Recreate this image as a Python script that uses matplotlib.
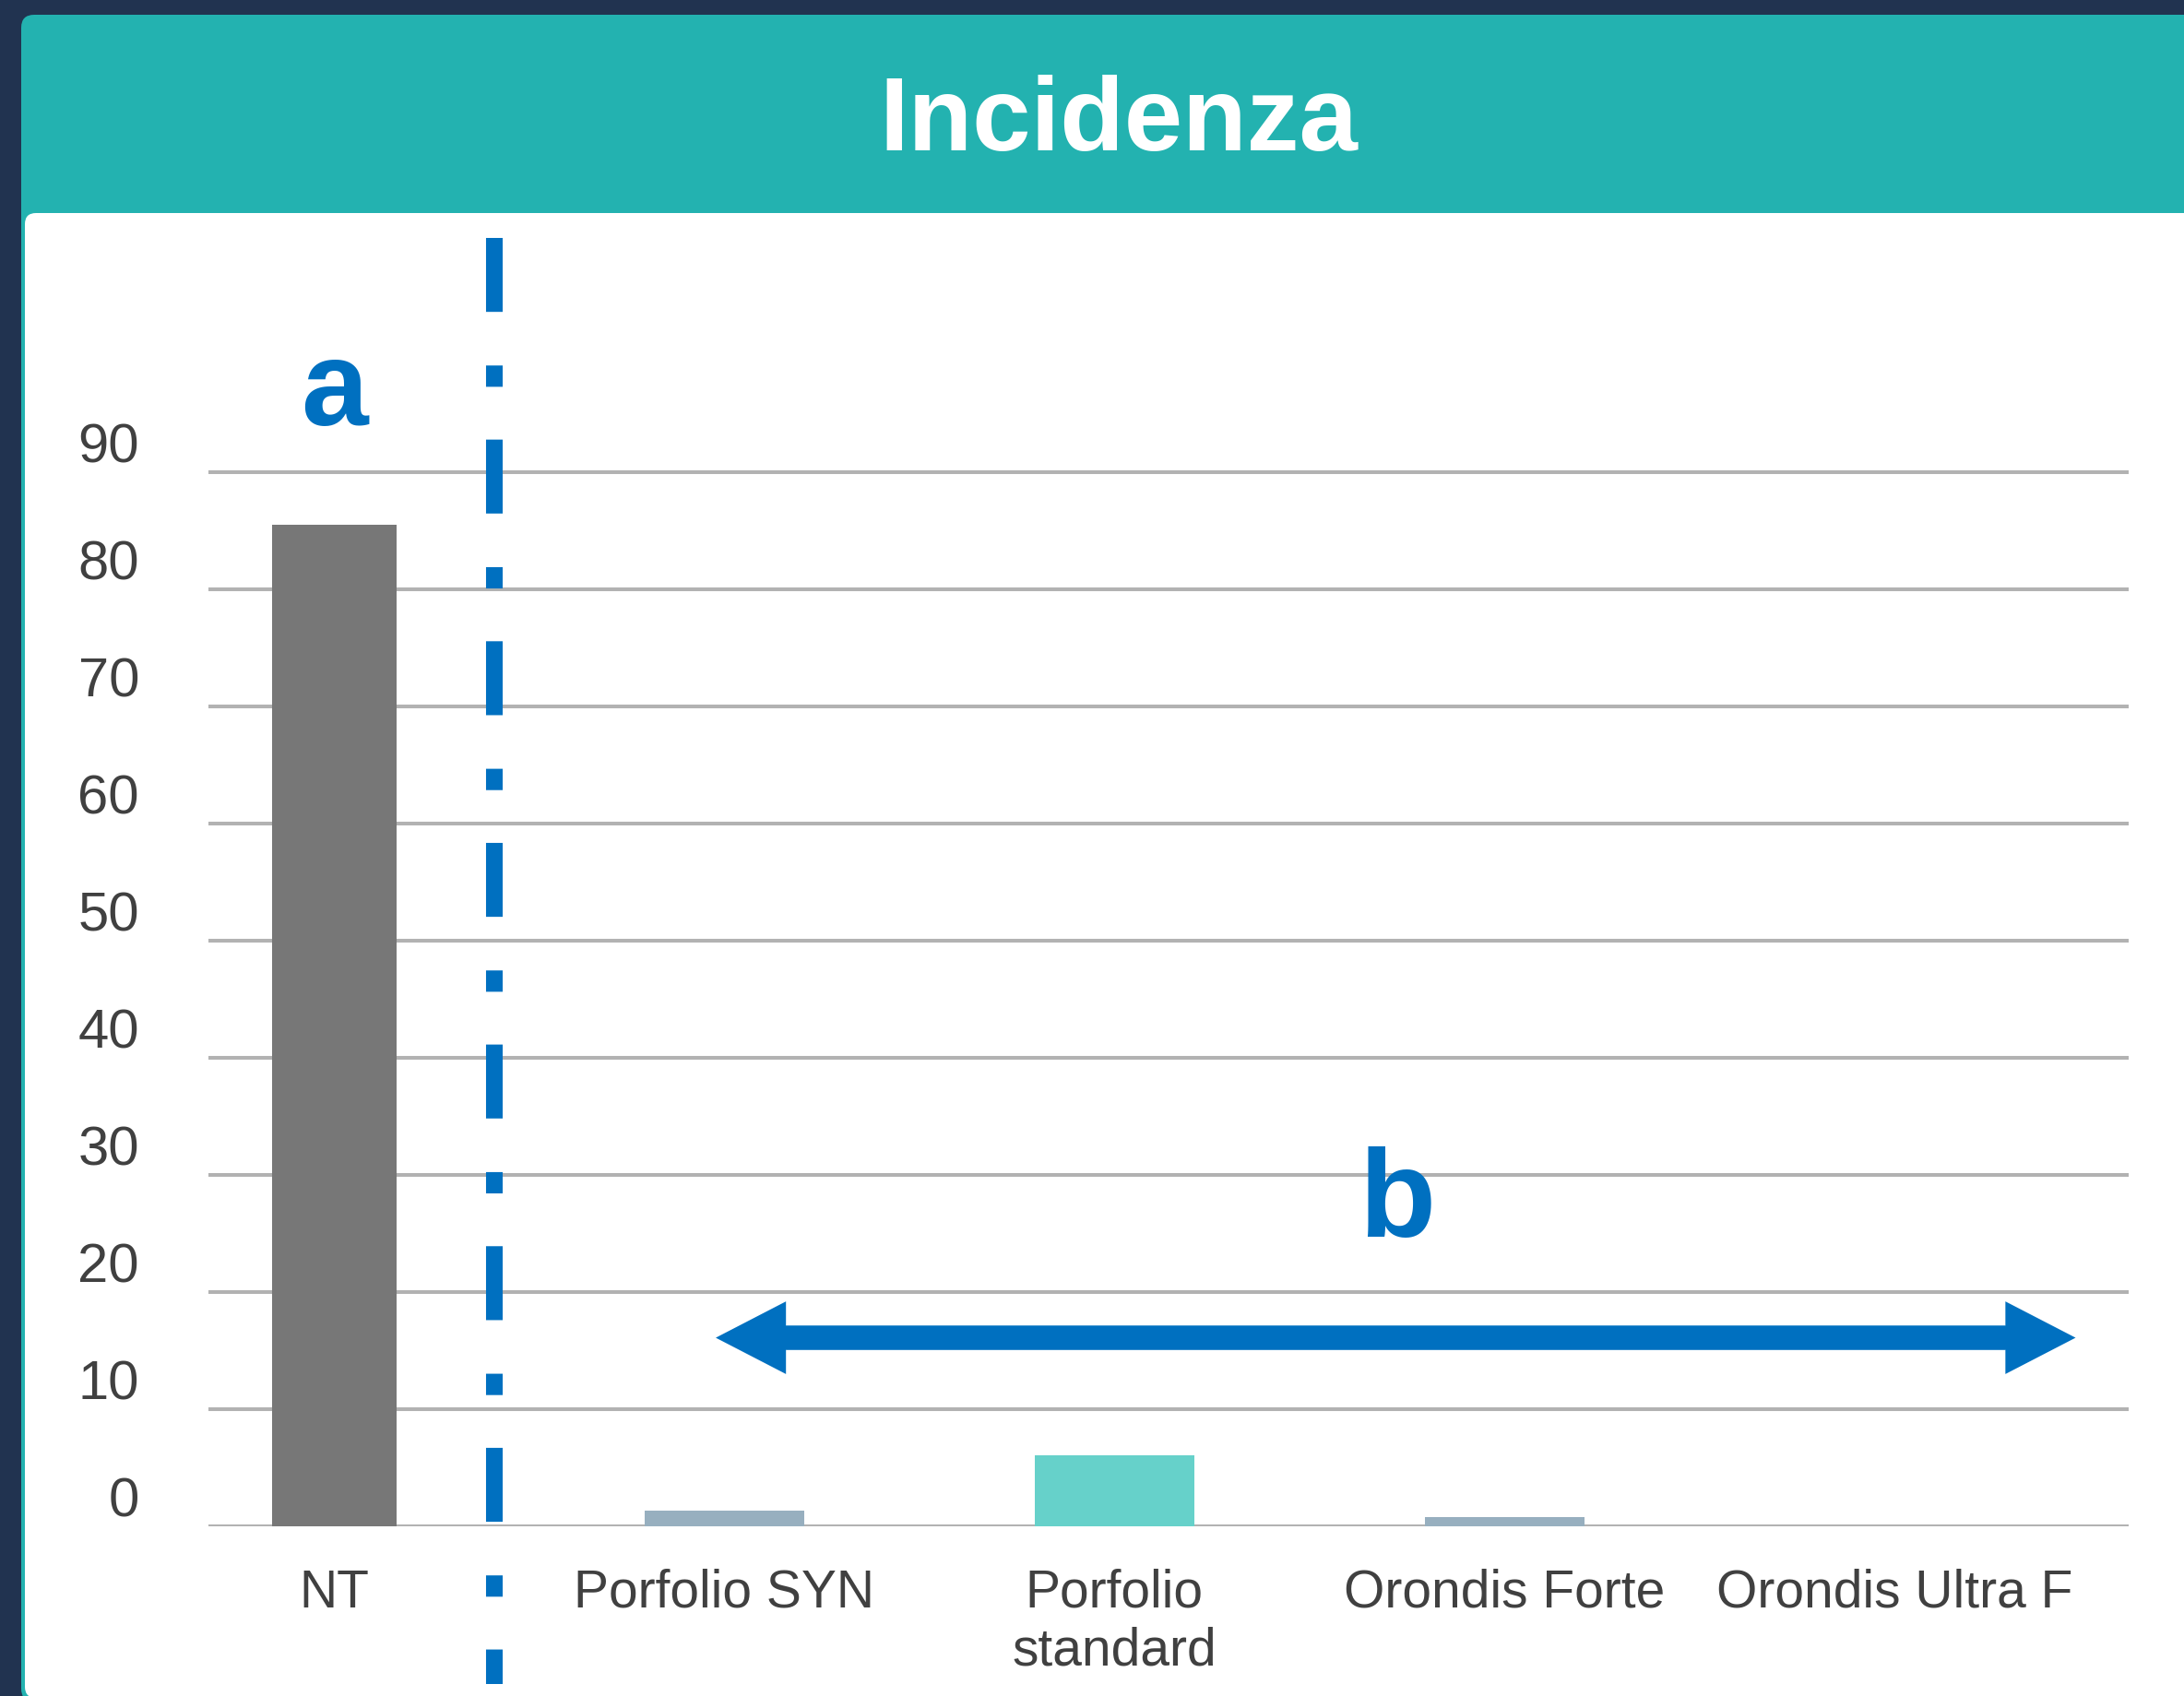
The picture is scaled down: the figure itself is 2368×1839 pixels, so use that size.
import matplotlib
matplotlib.use("Agg")
import matplotlib.pyplot as plt
from matplotlib.patches import FancyBboxPatch
from matplotlib.transforms import IdentityTransform, ScaledTranslation

# dati
categorie = ["NT", "Porfolio SYN", "Porfolio\nstandard", "Orondis Forte", "Orondis Ultra F"]
incidenza = [85.5, 1.3, 6.1, 0.8, 0.0]
y_ticks = [0, 10, 20, 30, 40, 50, 60, 70, 80, 90]
gruppo_nt = "a"
gruppo_trattati = "b"

# stile
W, H, DPI = 2368, 1839, 100
SFONDO = "#213350"
TEAL = "#23B2B0"
BLU = "#0070C0"
GRIGIO_TESTO = "#404040"
colori = ["#777777", "#97AFBF", "#66D1CA", "#97AFBF", "#97AFBF"]
larghezze = [0.32, 0.41, 0.41, 0.41, 0.41]

plt.rcParams["font.family"] = ["Liberation Sans", "DejaVu Sans"]

fig = plt.figure(figsize=(W / DPI, H / DPI), dpi=DPI, facecolor=SFONDO)

# scheda con intestazione (coordinate in pixel)
px = IdentityTransform()
scheda = FancyBboxPatch((23, -6), 2400, 1829, boxstyle="round,pad=0,rounding_size=14",
                        fc=TEAL, ec="none", transform=px, zorder=-3)
corpo = FancyBboxPatch((27, -2), 2400, 1610, boxstyle="round,pad=0,rounding_size=12",
                       fc="white", ec="none", transform=px, zorder=-2)
fig.add_artist(scheda)
fig.add_artist(corpo)

fig.text(1213 / W, 1 - 163 / H, "Incidenza", ha="center", va="baseline",
         fontsize=82, fontweight="bold", color="white")

ax = fig.add_axes([226 / W, 184 / H, (2308 - 226) / W, (1655 - 258) / H])
ax.patch.set_alpha(0)
for s in ax.spines.values():
    s.set_visible(False)

x = list(range(len(categorie)))
ax.bar(x, incidenza, width=larghezze, color=colori, zorder=2)

ax.set_xlim(-0.3225, 4.60)
ax.set_ylim(0, 110)
ax.set_yticks(y_ticks)
ax.set_xticks(x, categorie)
ax.yaxis.grid(True, color="#B2B2B2", linewidth=2.9)
ax.set_axisbelow(True)
ax.tick_params(axis="y", length=0, pad=54, labelsize=43, labelcolor=GRIGIO_TESTO)
ax.tick_params(axis="x", length=0, pad=33, labelsize=41, labelcolor=GRIGIO_TESTO)

# le etichette dell'asse y stanno un po' sopra le linee
shift = ScaledTranslation(0, 0.32, fig.dpi_scale_trans)
for lab in ax.get_yticklabels():
    lab.set_transform(lab.get_transform() + shift)

# separatore tratto-punto
ax.plot([0.41, 0.41], [110, -13.5], color=BLU, linewidth=13,
        dashes=(4.44, 3.22, 1.28, 3.17), dash_capstyle="butt",
        clip_on=False, zorder=3)

# freccia doppia sui trattati
x_sx, x_dx, y_freccia = 0.978, 4.464, 16.1
punta = 0.18
for inizio, fine in ((x_dx - punta, x_sx), (x_sx + punta, x_dx)):
    ax.arrow(inizio, y_freccia, fine - inizio, 0, width=2.05, head_width=6.2,
             head_length=punta, length_includes_head=True, color=BLU, lw=0, zorder=3)

ax.text(0, 94, gruppo_nt, ha="center", va="baseline", fontsize=94,
        fontweight="bold", color=BLU)
ax.text(2.725, 24.7, gruppo_trattati, ha="center", va="baseline", fontsize=98,
        fontweight="bold", color=BLU)

fig.savefig("out.png", dpi=DPI, facecolor=fig.get_facecolor())
